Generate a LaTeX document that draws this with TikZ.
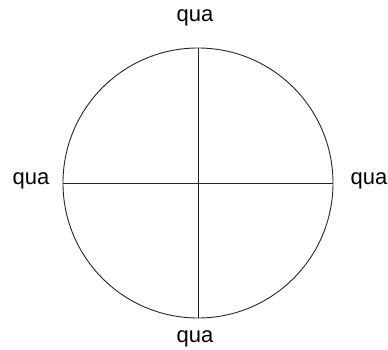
\documentclass[tikz,border=0pt]{standalone}
\usepackage{fontspec}
\setmainfont{Liberation Sans}
\begin{document}
\begin{tikzpicture}[x=1pt,y=-1pt,
  lbl/.style={font=\fontsize{22}{26}\selectfont, inner sep=0pt},
  ln/.style={line width=0.9pt, draw=black!85}]
\useasboundingbox (0,0) rectangle (388,350);
\coordinate (c) at (198,183);
\coordinate (t) at (198,48);
\coordinate (b) at (198,318);
\coordinate (l) at (63,183);
\coordinate (r) at (333,183);
\draw[ln] (c) circle[radius=135];
\draw[ln] (t) -- (b);
\draw[ln] (l) -- (r);
\node[lbl] (qt) at (195,18) {qua};
\node[lbl] (qb) at (195,339) {qua};
\node[lbl] (ql) at (31,181) {qua};
\node[lbl] (qr) at (369,181) {qua};
\end{tikzpicture}
\end{document}
